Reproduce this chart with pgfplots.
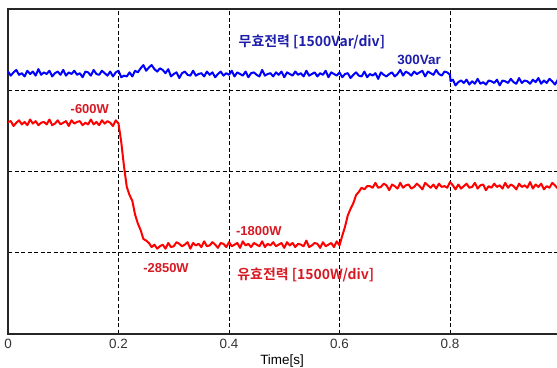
\documentclass[border=0pt]{standalone}
\usepackage{fontspec}
\setmainfont{Liberation Sans}
\newfontfamily\kr{Noto Sans CJK KR}[BoldFont={Noto Sans CJK KR Bold}]
\usepackage{pgfplots}
\pgfplotsset{compat=1.18}
\definecolor{lblue}{RGB}{0,0,255}
\definecolor{lred}{RGB}{255,0,0}
\definecolor{tblue}{RGB}{30,30,170}
\definecolor{tred}{RGB}{215,25,35}
\begin{document}
\begin{tikzpicture}
\begin{axis}[name=ax, scale only axis, width=552.5bp, height=325bp,
  xmin=0, xmax=1, ymin=0, ymax=4,
  axis line style={line width=1.2bp, black!85},
  xtick={0,0.2,0.4,0.6,0.8},
  ytick={1,2,3}, yticklabels={},
  major tick length=0pt,
  grid=major, grid style={black, line width=0.8bp, dash pattern=on 4bp off 2.5bp},
  /pgf/number format/assume math mode=true,
  tick label style={font=\fontsize{13.5}{15}\selectfont, text=black!80},
  xticklabel style={anchor=base, yshift=-14.6bp},
  xlabel={Time[s]},
  xlabel style={font=\fontsize{13.5}{15}\selectfont, at={(axis description cs:0.496,0)}, anchor=base, yshift=-30bp},
  clip=true]
\addplot[lblue, line width=2bp, line join=round] coordinates {
(0,3.23)(0.005,3.18)(0.01,3.22)(0.015,3.25)(0.02,3.19)(0.025,3.21)(0.03,3.17)(0.035,3.24)(0.04,3.20)(0.045,3.23)
(0.05,3.18)(0.055,3.26)(0.06,3.19)(0.065,3.22)(0.07,3.20)(0.075,3.24)(0.08,3.17)(0.085,3.21)(0.09,3.23)(0.095,3.19)
(0.1,3.25)(0.105,3.18)(0.11,3.22)(0.115,3.20)(0.12,3.24)(0.125,3.19)(0.13,3.21)(0.135,3.16)(0.14,3.23)(0.145,3.22)
(0.15,3.18)(0.155,3.25)(0.16,3.20)(0.165,3.19)(0.17,3.24)(0.175,3.21)(0.18,3.18)(0.185,3.23)(0.19,3.17)(0.195,3.22)
(0.2,3.24)(0.205,3.16)(0.21,3.18)(0.215,3.17)(0.22,3.22)(0.225,3.17)(0.23,3.24)(0.235,3.22)(0.24,3.27)(0.245,3.31)
(0.25,3.24)(0.255,3.28)(0.26,3.31)(0.265,3.26)(0.27,3.23)(0.275,3.27)(0.28,3.25)(0.285,3.21)(0.29,3.26)(0.295,3.17)
(0.3,3.20)(0.305,3.22)(0.31,3.15)(0.315,3.21)(0.32,3.23)(0.325,3.19)(0.33,3.18)(0.335,3.24)(0.34,3.18)(0.345,3.20)
(0.35,3.21)(0.355,3.17)(0.36,3.23)(0.365,3.19)(0.37,3.22)(0.375,3.16)(0.38,3.20)(0.385,3.23)(0.39,3.18)(0.395,3.21)
(0.4,3.19)(0.405,3.24)(0.41,3.17)(0.415,3.22)(0.42,3.20)(0.425,3.18)(0.43,3.23)(0.435,3.16)(0.44,3.21)(0.445,3.22)
(0.45,3.19)(0.455,3.17)(0.46,3.25)(0.465,3.18)(0.47,3.20)(0.475,3.21)(0.48,3.17)(0.485,3.22)(0.49,3.19)(0.495,3.23)
(0.5,3.16)(0.505,3.22)(0.51,3.20)(0.515,3.18)(0.52,3.23)(0.525,3.19)(0.53,3.21)(0.535,3.17)(0.54,3.24)(0.545,3.18)
(0.55,3.20)(0.555,3.22)(0.56,3.17)(0.565,3.21)(0.57,3.19)(0.575,3.24)(0.58,3.16)(0.585,3.22)(0.59,3.20)(0.595,3.18)
(0.6,3.22)(0.605,3.16)(0.61,3.20)(0.615,3.21)(0.62,3.15)(0.625,3.19)(0.63,3.22)(0.635,3.18)(0.64,3.17)(0.645,3.23)
(0.65,3.16)(0.655,3.20)(0.66,3.18)(0.665,3.21)(0.67,3.14)(0.675,3.22)(0.68,3.19)(0.685,3.17)(0.69,3.20)(0.695,3.22)
(0.7,3.17)(0.705,3.20)(0.71,3.25)(0.715,3.18)(0.72,3.23)(0.725,3.21)(0.73,3.18)(0.735,3.23)(0.74,3.20)(0.745,3.22)
(0.75,3.24)(0.755,3.17)(0.76,3.23)(0.765,3.21)(0.77,3.19)(0.775,3.25)(0.78,3.20)(0.785,3.18)(0.79,3.23)(0.795,3.22)
(0.8,3.19)(0.801,3.11)(0.805,3.13)(0.81,3.06)(0.815,3.10)(0.82,3.12)(0.825,3.09)(0.83,3.13)(0.835,3.07)(0.84,3.11)(0.845,3.08)
(0.85,3.14)(0.855,3.08)(0.86,3.10)(0.865,3.07)(0.87,3.12)(0.875,3.11)(0.88,3.09)(0.885,3.13)(0.89,3.06)(0.895,3.12)
(0.9,3.11)(0.905,3.09)(0.91,3.14)(0.915,3.10)(0.92,3.08)(0.925,3.15)(0.93,3.09)(0.935,3.12)(0.94,3.11)(0.945,3.08)
(0.95,3.13)(0.955,3.10)(0.96,3.15)(0.965,3.08)(0.97,3.12)(0.975,3.09)(0.98,3.14)(0.985,3.11)(0.99,3.07)(0.995,3.13)(1.0,3.12)
};
\addplot[lred, line width=2bp, line join=round] coordinates {
(0,2.61)(0.005,2.62)(0.01,2.56)(0.015,2.60)(0.02,2.63)(0.025,2.58)(0.03,2.61)(0.035,2.57)(0.04,2.64)(0.045,2.59)
(0.05,2.62)(0.055,2.57)(0.06,2.60)(0.065,2.61)(0.07,2.58)(0.075,2.64)(0.08,2.57)(0.085,2.59)(0.09,2.63)(0.095,2.58)
(0.1,2.60)(0.105,2.62)(0.11,2.56)(0.115,2.63)(0.12,2.59)(0.125,2.61)(0.13,2.62)(0.135,2.57)(0.14,2.60)(0.145,2.58)
(0.15,2.64)(0.155,2.58)(0.16,2.61)(0.165,2.57)(0.17,2.63)(0.175,2.59)(0.18,2.62)(0.185,2.60)(0.19,2.56)(0.195,2.63)
(0.2,2.59)(0.205,2.36)(0.21,2.06)(0.215,1.81)(0.22,1.71)(0.225,1.64)(0.23,1.47)(0.235,1.36)(0.24,1.28)(0.245,1.17)
(0.25,1.15)(0.255,1.12)(0.26,1.07)(0.265,1.10)(0.27,1.05)(0.275,1.08)(0.28,1.10)(0.285,1.05)(0.29,1.12)(0.295,1.07)
(0.3,1.08)(0.305,1.13)(0.31,1.11)(0.315,1.08)(0.32,1.10)(0.325,1.13)(0.33,1.05)(0.335,1.12)(0.34,1.09)(0.345,1.11)
(0.35,1.07)(0.355,1.14)(0.36,1.08)(0.365,1.09)(0.37,1.13)(0.375,1.10)(0.38,1.06)(0.385,1.12)(0.39,1.11)(0.395,1.07)
(0.4,1.13)(0.405,1.08)(0.41,1.10)(0.415,1.12)(0.42,1.06)(0.425,1.14)(0.43,1.09)(0.435,1.11)(0.44,1.07)(0.445,1.12)
(0.45,1.10)(0.455,1.08)(0.46,1.14)(0.465,1.07)(0.47,1.11)(0.475,1.09)(0.48,1.13)(0.485,1.08)(0.49,1.10)(0.495,1.12)
(0.5,1.06)(0.505,1.13)(0.51,1.09)(0.515,1.12)(0.52,1.07)(0.525,1.11)(0.53,1.10)(0.535,1.08)(0.54,1.15)(0.545,1.07)
(0.55,1.09)(0.555,1.12)(0.56,1.11)(0.565,1.06)(0.57,1.13)(0.575,1.08)(0.58,1.10)(0.585,1.12)(0.59,1.07)(0.595,1.14)
(0.6,1.09)(0.605,1.21)(0.61,1.32)(0.615,1.46)(0.62,1.54)(0.625,1.61)(0.63,1.71)(0.635,1.75)(0.64,1.80)(0.645,1.78)
(0.65,1.82)(0.655,1.82)(0.66,1.80)(0.665,1.86)(0.67,1.80)(0.675,1.81)(0.68,1.85)(0.685,1.83)(0.69,1.77)(0.695,1.84)
(0.7,1.82)(0.705,1.79)(0.71,1.86)(0.715,1.80)(0.72,1.83)(0.725,1.84)(0.73,1.79)(0.735,1.81)(0.74,1.85)(0.745,1.82)
(0.75,1.78)(0.755,1.86)(0.76,1.83)(0.765,1.80)(0.77,1.84)(0.775,1.79)(0.78,1.85)(0.785,1.81)(0.79,1.82)(0.795,1.80)
(0.8,1.87)(0.805,1.83)(0.81,1.78)(0.815,1.84)(0.82,1.79)(0.825,1.82)(0.83,1.85)(0.835,1.80)(0.84,1.81)(0.845,1.86)
(0.85,1.79)(0.855,1.83)(0.86,1.84)(0.865,1.77)(0.87,1.82)(0.875,1.80)(0.88,1.85)(0.885,1.81)(0.89,1.83)(0.895,1.79)
(0.9,1.86)(0.905,1.80)(0.91,1.84)(0.915,1.82)(0.92,1.78)(0.925,1.85)(0.93,1.81)(0.935,1.83)(0.94,1.80)(0.945,1.87)
(0.95,1.79)(0.955,1.84)(0.96,1.81)(0.965,1.85)(0.97,1.78)(0.975,1.82)(0.98,1.80)(0.985,1.86)(0.99,1.83)(0.995,1.79)(1.0,1.84)
};
\node[text=tblue, font=\kr\bfseries\fontsize{14}{16}\selectfont] at (axis cs:0.550,3.594) {무효전력 [1500Var/div]};
\node[text=tblue, font=\bfseries\fontsize{13.5}{15}\selectfont] at (axis cs:0.744,3.372) {300Var};
\node[text=tred, font=\bfseries\fontsize{13}{15}\selectfont] at (axis cs:0.148,2.769) {-600W};
\node[text=tred, font=\bfseries\fontsize{13}{15}\selectfont] at (axis cs:0.454,1.268) {-1800W};
\node[text=tred, font=\bfseries\fontsize{13}{15}\selectfont] at (axis cs:0.286,0.812) {-2850W};
\node[text=tred, font=\kr\bfseries\fontsize{14}{16}\selectfont] at (axis cs:0.539,0.726) {유효전력 [1500W/div]};
\end{axis}
\pgfresetboundingbox
\path[use as bounding box] ([xshift=-8bp,yshift=-34bp]ax.south west) rectangle ([xshift=-3.5bp,yshift=9bp]ax.north east);
\end{tikzpicture}
\end{document}
